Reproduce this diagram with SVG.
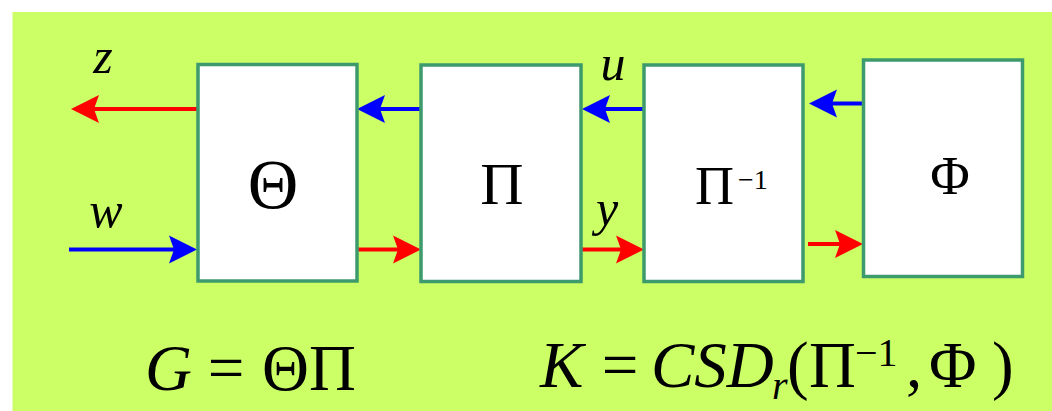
<svg xmlns="http://www.w3.org/2000/svg" width="1052" height="411" viewBox="0 0 1052 411">
  <style>
    .box{fill:#ffffff;stroke:#3d9a6c;stroke-width:3.5}
    .sym{font-family:"Liberation Serif","Times New Roman",serif;fill:#000}
    .it{font-family:"Liberation Serif","Times New Roman",serif;font-style:italic;fill:#000}
    .red{stroke:#ff0000;stroke-width:4;fill:none}
    .blue{stroke:#0000ff;stroke-width:4;fill:none}
  </style>
  <defs>
    <marker id="ahRed" markerUnits="userSpaceOnUse" viewBox="-10 -15 32 30" refX="0" refY="0" markerWidth="32" markerHeight="30" orient="auto" overflow="visible">
      <path d="M20,0 L-8,-14 L-3,0 L-8,14 Z" fill="#ff0000"/>
    </marker>
    <marker id="ahBlue" markerUnits="userSpaceOnUse" viewBox="-10 -15 32 30" refX="0" refY="0" markerWidth="32" markerHeight="30" orient="auto" overflow="visible">
      <path d="M20,0 L-8,-14 L-3,0 L-8,14 Z" fill="#0000ff"/>
    </marker>
  </defs>
  <rect x="0" y="0" width="1052" height="411" fill="#ffffff"/>
  <rect x="12.5" y="12" width="1040" height="399" fill="#ccff66"/>

  <g id="connectors">
    <line class="red" x1="197" y1="109" x2="91" y2="109" marker-end="url(#ahRed)"/>
    <line class="blue" x1="69" y1="249.5" x2="177" y2="249.5" marker-end="url(#ahBlue)"/>
    <line class="red" x1="357" y1="249.5" x2="401" y2="249.5" marker-end="url(#ahRed)"/>
    <line class="blue" x1="421" y1="109" x2="377" y2="109" marker-end="url(#ahBlue)"/>
    <line class="blue" x1="644" y1="109" x2="602" y2="109" marker-end="url(#ahBlue)"/>
    <line class="red" x1="581" y1="249.5" x2="624" y2="249.5" marker-end="url(#ahRed)"/>
    <line class="blue" x1="863" y1="103.5" x2="829" y2="103.5" marker-end="url(#ahBlue)"/>
    <line class="red" x1="808" y1="244" x2="843" y2="244" marker-end="url(#ahRed)"/>
    <text class="it" x="103" y="73" font-size="50" text-anchor="middle">z</text>
    <text class="it" x="106" y="227" font-size="50" text-anchor="middle">w</text>
    <text class="it" x="613" y="80" font-size="50" text-anchor="middle">u</text>
    <text class="it" x="607" y="225" font-size="50" text-anchor="middle">y</text>
  </g>

  <g id="theta">
    <rect class="box" x="198" y="64.5" width="159" height="216.5"/>
    <text class="sym" x="273" y="208" font-size="70" text-anchor="middle">Θ</text>
  </g>
  <g id="pi">
    <rect class="box" x="421" y="65" width="160" height="216.5"/>
    <text class="sym" x="502" y="204" font-size="60" text-anchor="middle">Π</text>
  </g>
  <g id="piinv">
    <rect class="box" x="644" y="65" width="159" height="216.5"/>
    <text class="sym" x="695" y="204" font-size="54">Π</text>
    <text class="sym" x="738" y="189" font-size="28">−1</text>
  </g>
  <g id="phi">
    <rect class="box" x="863.5" y="60" width="159" height="216.5"/>
    <text class="sym" x="950" y="194" font-size="54" text-anchor="middle">Φ</text>
  </g>

  <g id="formulas">
    <text class="it" x="145" y="390" font-size="65">G</text>
    <text class="sym" x="226" y="390" font-size="65" text-anchor="middle">=</text>
    <text class="sym" x="262" y="390" font-size="65">Θ</text>
    <text class="sym" x="309" y="390" font-size="65">Π</text>

    <text class="it" x="540" y="387" font-size="65">K</text>
    <text class="sym" x="620" y="387" font-size="65" text-anchor="middle">=</text>
    <text class="it" x="651" y="387" font-size="65">CSD</text>
    <text class="it" x="772" y="399" font-size="40">r</text>
    <text class="sym" x="787" y="387" font-size="65">(</text>
    <text class="sym" x="809" y="387" font-size="65">Π</text>
    <text class="sym" x="855" y="366" font-size="40">−1</text>
    <text class="sym" x="906" y="387" font-size="65">,</text>
    <text class="sym" x="929" y="387" font-size="65">Φ</text>
    <text class="sym" x="992" y="387" font-size="65">)</text>
  </g>
</svg>
